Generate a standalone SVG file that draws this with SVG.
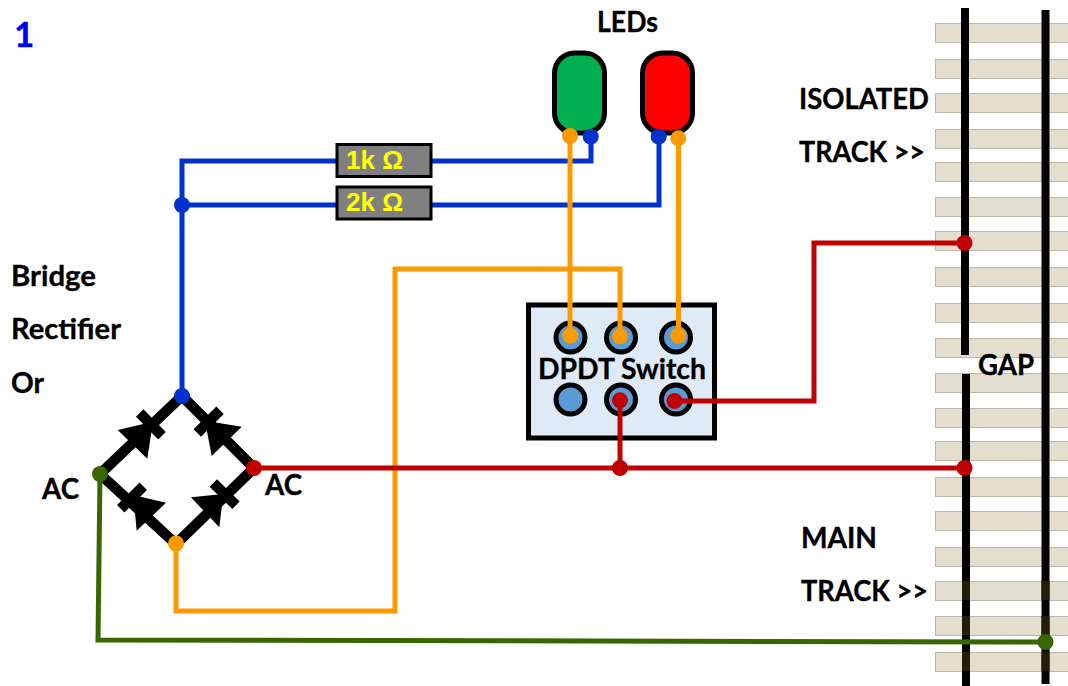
<svg xmlns="http://www.w3.org/2000/svg" width="1068" height="686" viewBox="0 0 1068 686">
<style>
.t{font-family:"Lato","Liberation Sans",sans-serif;font-weight:700;font-size:28.5px;fill:#000;stroke:#000;stroke-width:.35}
.tie{fill:#e4dece;stroke:#bdb7a8;stroke-width:1}
.rail{fill:#000}
.tint{fill:#231c08}
.w{fill:none;stroke-width:5;stroke-linejoin:miter}
.b{stroke:#0033cc}.o{stroke:#ff9900}.r{stroke:#c00000}.g{stroke:#386600}
.db{fill:#0033cc}.do{fill:#ff9900}.dr{fill:#c00000}.dg{fill:#386600}
.hole{fill:#5b9bd5;stroke:#000;stroke-width:5}
.res{fill:#808080;stroke:#000;stroke-width:3}
.rt{font-family:"Liberation Sans",sans-serif;font-weight:700;font-size:26px;fill:#ffff00}
.led{stroke:#000;stroke-width:5}
.br{fill:none;stroke:#000;stroke-width:10.5}
</style>
<g id="track">
<rect class="tie" x="935.5" y="23.5" width="133" height="19"/>
<rect class="tie" x="935.5" y="59.5" width="133" height="19"/>
<rect class="tie" x="935.5" y="93.5" width="133" height="19"/>
<rect class="tie" x="935.5" y="129.5" width="133" height="19"/>
<rect class="tie" x="935.5" y="162.5" width="133" height="19"/>
<rect class="tie" x="935.5" y="197.5" width="133" height="19"/>
<rect class="tie" x="935.5" y="231.5" width="133" height="19"/>
<rect class="tie" x="935.5" y="267.5" width="133" height="19"/>
<rect class="tie" x="935.5" y="303.5" width="133" height="19"/>
<rect class="tie" x="935.5" y="338.5" width="133" height="19"/>
<rect class="tie" x="935.5" y="373.5" width="133" height="19"/>
<rect class="tie" x="935.5" y="408.5" width="133" height="19"/>
<rect class="tie" x="935.5" y="441.5" width="133" height="19"/>
<rect class="tie" x="935.5" y="477.5" width="133" height="19"/>
<rect class="tie" x="935.5" y="511.5" width="133" height="19"/>
<rect class="tie" x="935.5" y="547.5" width="133" height="19"/>
<rect class="tie" x="935.5" y="581.5" width="133" height="19"/>
<rect class="tie" x="935.5" y="616.5" width="133" height="19"/>
<rect class="tie" x="935.5" y="652.5" width="133" height="19"/>
<rect class="rail" x="961" y="8" width="8" height="347"/>
<rect class="rail" x="962" y="374" width="8" height="312"/>
<rect class="rail" x="1041.5" y="10" width="8" height="674"/>
<rect class="tint" x="962" y="581" width="8" height="19"/>
<rect class="tint" x="962" y="616" width="8" height="19"/>
<rect class="tint" x="962" y="652" width="8" height="19"/>
<rect class="tint" x="1041.5" y="581" width="8" height="19"/>
<rect class="tint" x="1041.5" y="616" width="8" height="19"/>
<rect class="tint" x="1041.5" y="652" width="8" height="19"/>
</g>
<g id="switch">
<rect x="528.5" y="305" width="186" height="133" fill="#deebf7" stroke="#000" stroke-width="5"/>
<circle class="hole" cx="570.5" cy="337.5" r="14.5"/>
<circle class="hole" cx="621" cy="337.5" r="14.5"/>
<circle class="hole" cx="676" cy="337.5" r="14.5"/>
<circle class="hole" cx="570.5" cy="399.5" r="14.5"/>
<circle class="hole" cx="621" cy="399.5" r="14.5"/>
<circle class="hole" cx="676" cy="399.5" r="14.5"/>
</g>
<g id="led-green"><rect class="led" x="554.5" y="53" width="50" height="80" rx="20" fill="#00b050"/></g>
<g id="led-red"><rect class="led" x="642.5" y="53" width="50" height="80" rx="20" fill="#ff0000"/></g>
<g id="bridge">
<path class="br" d="M182 396L100 474L176 544L254 468Z"/>
<polygon points="117.7,430 153,421.7 147.3,458.7"/>
<polygon points="205,420.7 241.7,426.7 211.7,456"/>
<polygon points="133.3,495 166,502.7 136.7,530.7"/>
<polygon points="223.3,494 191,497.3 219.3,527.3"/>
<path class="br" d="M139.7 413L162 435.7M220 410.3L197.3 433M143.3 486.3L120.7 508.7M213.3 483L236 505.3"/>
</g>
<g id="connectors">
<path class="w b" d="M182 396V161H336M432 161H591V137"/>
<path class="w b" d="M182 205H336M432 205H659V137"/>
<path class="w o" d="M570 136V336"/>
<path class="w o" d="M678.5 138V336"/>
<path class="w o" d="M620 336V269H395V611H176V544"/>
<path class="w r" d="M254 468H965"/>
<path class="w r" d="M620 400V468"/>
<path class="w r" d="M675 401H814V243H965"/>
<path class="w g" d="M100 474L98 640L1046 642"/>
<circle class="db" cx="182" cy="396" r="8"/>
<circle class="db" cx="182" cy="205" r="8"/>
<circle class="do" cx="570" cy="136" r="8"/>
<circle class="db" cx="590.7" cy="136.7" r="8"/>
<circle class="db" cx="658.7" cy="136.7" r="8"/>
<circle class="do" cx="678.3" cy="138.3" r="8"/>
<circle class="do" cx="570.3" cy="335.7" r="8"/>
<circle class="do" cx="620" cy="336.3" r="8"/>
<circle class="do" cx="678.3" cy="335.7" r="8"/>
<circle class="dr" cx="620" cy="400.3" r="8"/>
<circle class="dr" cx="674.5" cy="401" r="8"/>
<circle class="dr" cx="620" cy="468" r="8"/>
<circle class="dr" cx="254" cy="468" r="8"/>
<circle class="dr" cx="964.5" cy="468" r="8"/>
<circle class="dr" cx="964.5" cy="243" r="8"/>
<circle class="do" cx="176" cy="543.5" r="8"/>
<circle class="dg" cx="100" cy="474" r="8"/>
<circle class="dg" cx="1045.5" cy="642" r="8"/>
</g>
<g id="resistor-1k"><rect class="res" x="337" y="144.5" width="94" height="32"/><text class="rt" x="346" y="169">1k Ω</text></g>
<g id="resistor-2k"><rect class="res" x="337" y="187" width="94" height="32"/><text class="rt" x="346" y="211">2k Ω</text></g>
<g id="labels">
<text x="14" y="47" style="font-family:Lato,'Liberation Sans',sans-serif;font-weight:700;font-size:35px;fill:#0000ff;stroke:#0000ff;stroke-width:.4">1</text>
<text class="t" x="597" y="31.5" textLength="61" lengthAdjust="spacingAndGlyphs">LEDs</text>
<text class="t" x="799" y="108.5" textLength="130" lengthAdjust="spacingAndGlyphs">ISOLATED</text>
<text class="t" x="799" y="161.5" textLength="126" lengthAdjust="spacingAndGlyphs">TRACK &gt;&gt;</text>
<text class="t" x="11" y="285.5" textLength="85" lengthAdjust="spacingAndGlyphs">Bridge</text>
<text class="t" x="11" y="338.5" textLength="110" lengthAdjust="spacingAndGlyphs">Rectifier</text>
<text class="t" x="11" y="392.5" textLength="33" lengthAdjust="spacingAndGlyphs">Or</text>
<text class="t" x="42" y="498.5" textLength="37" lengthAdjust="spacingAndGlyphs">AC</text>
<text class="t" x="265" y="494.5" textLength="37" lengthAdjust="spacingAndGlyphs">AC</text>
<text class="t" x="538" y="378.5" textLength="168" lengthAdjust="spacingAndGlyphs">DPDT Switch</text>
<text class="t" x="978" y="374.5" textLength="56" lengthAdjust="spacingAndGlyphs">GAP</text>
<text class="t" x="801" y="547.5" textLength="76" lengthAdjust="spacingAndGlyphs">MAIN</text>
<text class="t" x="801" y="600.5" textLength="127" lengthAdjust="spacingAndGlyphs">TRACK &gt;&gt;</text>
</g>
</svg>
